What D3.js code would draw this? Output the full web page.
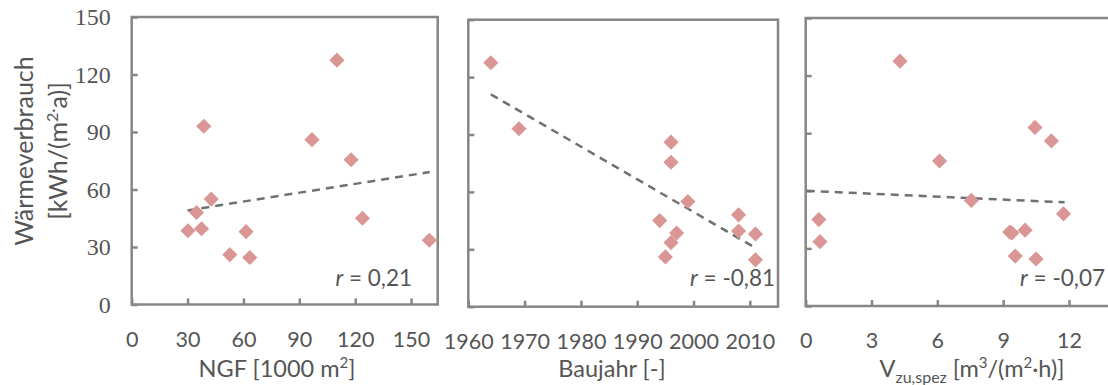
<!DOCTYPE html>
<html>
  <head>
    <title>Wärmeverbrauch</title>
    <style>
    body {
        margin: 0px;
        overflow: hidden;
        background: white;
    }

    text {
        font-family: Lato, sans-serif;
        fill: #555555;
    }

    .ylab text {
        font-family: 'Liberation Serif', serif;
        font-size: 24px;
    }

    .xlab text {
        font-size: 21.5px;
    }

    .tick line {
        stroke: #868686;
        stroke-width: 2.5;
    }
    </style>
    <script src="https://d3js.org/d3.v7.min.js"></script>
  </head>
  <body>

    <svg width="1108" height="385"></svg>

    <script>
        // Wärmeverbrauch [kWh/(m2 a)] per building, same order in every panel
        const waerme = [127.5, 93, 86, 75.5, 55, 48, 45, 39.5, 38.5, 38, 33.5, 26, 24.5];
        const ngf = [110.2, 38.7, 96.8, 117.8, 42.7, 34.8, 123.9, 37.5, 30.2, 61.4, 159.8, 52.7, 63.4];
        const baujahr = [1964, 1969, 1996, 1996, 1999, 2008, 1994, 2008, 1997, 2011, 1996, 1995, 2011];
        const vzu = [4.3, 10.45, 11.2, 6.1, 7.55, 11.75, 0.6, 10.0, 9.3, 9.4, 0.65, 9.55, 10.5];

        // trend lines, start and end [x, y]
        const trendNgf = [[30, 49.1], [160, 69.1]];
        const trendBaujahr = [[1964, 111], [2010.6, 31.4]];
        const trendVzu = [[0.05, 60], [11.8, 54]];

        const rLabels = ['0,21', '-0,81', '-0,07'];

        const yTicks = [0, 30, 60, 90, 120, 150];
        const ngfTicks = [0, 30, 60, 90, 120, 150];
        const baujahrTicks = [1960, 1970, 1980, 1990, 2000, 2010];
        const vzuTicks = [0, 3, 6, 9, 12];

        const svg = d3.select('svg');
        const axisColor = '#868686';
        const markerColor = '#D99694';

        const panels = [
            { x: ngf, trend: trendNgf, ticks: ngfTicks, domain: [0, 164.3],
              left: 131.7, right: 437.7, top: 17, bottom: 304.5,
              r: rLabels[0], rX: 412, title: 'ngf', titleX: 277, yLabels: true },
            { x: baujahr, trend: trendBaujahr, ticks: baujahrTicks, domain: [1960, 2015],
              left: 468.3, right: 778, top: 19.7, bottom: 306.7,
              r: rLabels[1], rX: 775, title: 'bau', titleX: 612 },
            { x: vzu, trend: trendVzu, ticks: vzuTicks, domain: [0, 14.5],
              left: 805.7, right: 805.7 + 14.5 * 21.94, top: 18, bottom: 306,
              r: rLabels[2], rX: 1105, title: 'vzu', titleX: 972 }
        ];

        const diamond = d3.symbol(d3.symbolSquare, 115);

        panels.forEach(p => {
            const xScale = d3.scaleLinear().domain(p.domain).range([p.left, p.right]);
            const yScale = d3.scaleLinear().domain([0, 150]).range([p.bottom, p.top]);

            const g = svg.append('g');

            // x axis with inward ticks
            const xAxisG = g.append('g')
                .attr('class', 'xlab')
                .attr('transform', `translate(0,${p.bottom})`)
                .call(d3.axisBottom(xScale).tickValues(p.ticks)
                    .tickFormat(d3.format('d')).tickSize(-6).tickPadding(27));
            xAxisG.select('.domain').remove();
            xAxisG.selectAll('text').attr('fill', '#555555');

            const yAxisG = g.append('g')
                .attr('class', 'ylab')
                .attr('transform', `translate(${p.left},0)`)
                .call(d3.axisLeft(yScale).tickValues(yTicks).tickSize(-6).tickPadding(21));
            yAxisG.select('.domain').remove();
            if (!p.yLabels) yAxisG.selectAll('text').remove();
            else yAxisG.selectAll('text').attr('fill', '#555555');

            // frame
            g.append('rect')
                .attr('x', p.left)
                .attr('y', p.top)
                .attr('width', p.right - p.left)
                .attr('height', p.bottom - p.top)
                .attr('fill', 'none')
                .attr('stroke', axisColor)
                .attr('stroke-width', 2.5);

            // trend line
            g.append('line')
                .attr('x1', xScale(p.trend[0][0]))
                .attr('y1', yScale(p.trend[0][1]))
                .attr('x2', xScale(p.trend[1][0]))
                .attr('y2', yScale(p.trend[1][1]))
                .attr('stroke', '#707070')
                .attr('stroke-width', 2.5)
                .attr('stroke-dasharray', '8,6');

            // points
            g.selectAll('path.pt').data(p.x)
                .enter().append('path')
                .attr('class', 'pt')
                .attr('d', diamond)
                .attr('transform', (d, i) => `translate(${xScale(d)},${yScale(waerme[i])}) rotate(45)`)
                .attr('fill', markerColor);

            // r label
            const rt = g.append('text')
                .attr('x', p.rX)
                .attr('y', 286)
                .attr('text-anchor', 'end')
                .attr('font-size', '22.5px');
            rt.append('tspan').attr('font-style', 'italic').text('r');
            rt.append('tspan').text(' = ' + p.r);

            // x axis title
            const t = g.append('text')
                .attr('x', p.titleX)
                .attr('y', 377)
                .attr('text-anchor', 'middle')
                .attr('font-size', '23.5px');
            if (p.title === 'ngf') {
                t.append('tspan').text('NGF [1000 m');
                t.append('tspan').attr('dy', -9).attr('font-size', '15px').text('2');
                t.append('tspan').attr('dy', 9).text(']');
            } else if (p.title === 'bau') {
                t.text('Baujahr [-]');
            } else {
                t.append('tspan').text('V');
                t.append('tspan').attr('dy', 6).attr('font-size', '16px').text('zu,spez');
                t.append('tspan').attr('dy', -6).text(' [m');
                t.append('tspan').attr('dy', -9).attr('font-size', '15px').text('3');
                t.append('tspan').attr('dy', 9).text('/(m');
                t.append('tspan').attr('dy', -9).attr('font-size', '15px').text('2');
                t.append('tspan').attr('dy', 9).text('·h)]');
            }
        });

        // y axis title, two lines
        const yt = svg.append('g').attr('transform', 'translate(0,151) rotate(-90)');
        yt.append('text')
            .attr('x', 0).attr('y', 33)
            .attr('text-anchor', 'middle')
            .attr('font-size', '25px')
            .text('Wärmeverbrauch');
        const yt2 = yt.append('text')
            .attr('x', 0).attr('y', 67)
            .attr('text-anchor', 'middle')
            .attr('font-size', '25px');
        yt2.append('tspan').text('[kWh/(m');
        yt2.append('tspan').attr('dy', -9).attr('font-size', '16px').text('2·');
        yt2.append('tspan').attr('dy', 9).text('a)]');
    </script>
  </body>
</html>
